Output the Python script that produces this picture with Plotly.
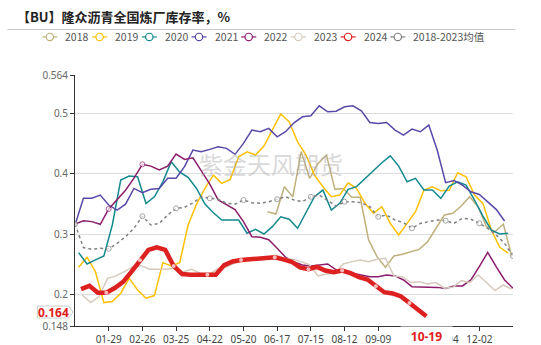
import numpy as np
import pandas as pd
import plotly.graph_objects as go

# ---------------- data ----------------
years = ["2018", "2019", "2020", "2021", "2022", "2023", "2024", "2018-2023均值"]
colors = ["#BFB07C", "#FFC000", "#14898E", "#5A48A8", "#8C1D6C", "#D6CABC", "#DD2020", "#808080"]
start_days = [160, 3, 3, 0, 0, 6, 5, 0]

v2018 = [0.3374, 0.3336, 0.3788, 0.362, 0.437, 0.3927, 0.4175, 0.4313, 0.3745, 0.376,
         0.3613, 0.3613, 0.2906, 0.263, 0.2454, 0.264, 0.2668, 0.2712, 0.275, 0.2877,
         0.31, 0.332, 0.3348, 0.3468, 0.3622, 0.3457, 0.3126, 0.3043, 0.317, 0.263]
v2019 = [0.2454, 0.262, 0.238, 0.1868, 0.1884, 0.2023, 0.227, 0.2078, 0.194, 0.1984,
         0.253, 0.2475, 0.253, 0.3154, 0.350, 0.376, 0.398, 0.3844, 0.391, 0.4285,
         0.4368, 0.4313, 0.4462, 0.4727, 0.4995, 0.4864, 0.4533, 0.4313, 0.398, 0.3788,
         0.3622, 0.365, 0.3854, 0.376, 0.3513, 0.3348, 0.3457, 0.3182, 0.2988, 0.318,
         0.3374, 0.3733, 0.3788, 0.372, 0.373, 0.402, 0.3954, 0.365, 0.3513, 0.307,
         0.2785, 0.2686]
v2020 = [0.2696, 0.2508, 0.2575, 0.264, 0.3154, 0.39, 0.3966, 0.3955, 0.351, 0.3622,
         0.387, 0.4202, 0.403, 0.3944, 0.376, 0.350, 0.3357, 0.3237, 0.3237, 0.3237,
         0.3017, 0.3083, 0.3005, 0.3126, 0.329, 0.325, 0.31, 0.3374, 0.3622, 0.3733,
         0.340, 0.3513, 0.3745, 0.379, 0.3927, 0.4065, 0.4186, 0.430, 0.413, 0.387,
         0.3927, 0.3733, 0.3733, 0.3596, 0.38, 0.387, 0.3816, 0.3568, 0.330, 0.307,
         0.3005, 0.3017]
v2021 = [0.3154, 0.3597, 0.3597, 0.365, 0.3485, 0.340, 0.350, 0.376, 0.369, 0.3745,
         0.376, 0.393, 0.393, 0.412, 0.4396, 0.437, 0.4407, 0.445, 0.4424, 0.4325,
         0.4506, 0.4727, 0.470, 0.4755, 0.4616, 0.470, 0.4848, 0.4947, 0.4964, 0.513,
         0.503, 0.5041, 0.5113, 0.513, 0.5046, 0.4854, 0.4838, 0.4854, 0.4727, 0.4644,
         0.4743, 0.470, 0.481, 0.4396, 0.3855, 0.389, 0.3816, 0.3705, 0.366, 0.354,
         0.3413, 0.322]
v2022 = [0.317, 0.3225, 0.321, 0.3166, 0.342, 0.358, 0.373, 0.393, 0.416, 0.413,
         0.4065, 0.413, 0.433, 0.424, 0.4268, 0.405, 0.383, 0.357, 0.3485, 0.341,
         0.321, 0.296, 0.295, 0.291, 0.2768, 0.262, 0.254, 0.249, 0.2475, 0.249,
         0.2508, 0.241, 0.238, 0.2354, 0.2326, 0.2298, 0.2298, 0.2326, 0.231, 0.2243,
         0.2132, 0.2132, 0.2125, 0.212, 0.21, 0.2144, 0.2144, 0.2243, 0.2464, 0.270,
         0.2464, 0.2243, 0.2106]
v2023 = [0.1995, 0.1868, 0.1967, 0.227, 0.231, 0.238, 0.2464, 0.248, 0.242, 0.242,
         0.242, 0.2437, 0.238, 0.242, 0.2354, 0.2326, 0.242, 0.2454, 0.252, 0.2575,
         0.258, 0.2575, 0.2603, 0.2657, 0.2603, 0.2586, 0.2547, 0.2492, 0.231, 0.2343,
         0.2354, 0.2508, 0.2547, 0.2575, 0.2547, 0.2586, 0.2603, 0.231, 0.2298, 0.22,
         0.2215, 0.2177, 0.22, 0.2106, 0.2122, 0.2232, 0.22, 0.2326, 0.22, 0.2066,
         0.216, 0.209]
v2024 = [0.209, 0.2145, 0.203, 0.203, 0.211, 0.221, 0.238, 0.257, 0.274, 0.2785,
         0.274, 0.2475, 0.234, 0.233, 0.233, 0.233, 0.233, 0.249, 0.255, 0.2575,
         0.259, 0.26, 0.261, 0.262, 0.2585, 0.2545, 0.245, 0.242, 0.246, 0.240,
         0.237, 0.240, 0.2355, 0.229, 0.225, 0.214, 0.204, 0.202, 0.197, 0.186,
         0.175, 0.164]
vmean = [0.317, 0.278, 0.2751, 0.2768, 0.276, 0.285, 0.296, 0.310, 0.330, 0.3154,
         0.318, 0.332, 0.343, 0.3447, 0.352, 0.3622, 0.3596, 0.358, 0.3513, 0.350,
         0.3568, 0.3523, 0.3513, 0.354, 0.358, 0.3622, 0.3568, 0.354, 0.3622, 0.365,
         0.356, 0.3468, 0.354, 0.354, 0.3523, 0.3457, 0.329, 0.332, 0.3237, 0.3193,
         0.31, 0.318, 0.3209, 0.3237, 0.3225, 0.3182, 0.3265, 0.325, 0.3182, 0.31,
         0.2988, 0.285, 0.264]
series = [v2018, v2019, v2020, v2021, v2022, v2023, v2024, vmean]

y_ticks = [0.148, 0.2, 0.3, 0.4, 0.5, 0.564]
y_ticktext = ["0.148", "0.2", "0.3", "0.4", "0.5", "0.564"]
x_ticks = ["2024-01-29", "2024-02-26", "2024-03-25", "2024-04-22", "2024-05-20", "2024-06-17",
           "2024-07-15", "2024-08-12", "2024-09-09", "2024-10-07", "2024-11-04", "2024-12-02"]
# 10-07 label is hidden under the axis-pointer label in the reference
x_ticktext = ["01-29", "02-26", "03-25", "04-22", "05-20", "06-17",
              "07-15", "08-12", "09-09", "", "11-04", "12-02"]
last_date = "2024-10-19"
last_value = "0.164"
title = "【BU】隆众沥青全国炼厂库存率，%"
watermark = "紫金天风期货"

# ---------------- geometry ----------------
W, H = 541, 345
L, R, T, B = 74.6, 28.4, 74.8, 19.0
PW, PH = W - L - R, H - T - B


def px(xp):
    return (xp - L) / PW


def py(yp):
    return (H - B - yp) / PH


base = pd.Timestamp("2024-01-01")
fig = go.Figure()

for i, (name, vals) in enumerate(zip(years, series)):
    n = len(vals)
    xs = base + pd.to_timedelta(start_days[i] + 7 * np.arange(n), unit="D")
    if i == 7:
        sizes = [5 if k % 4 == 0 else 0 for k in range(n)]
        fig.add_trace(go.Scatter(
            x=xs, y=vals, mode="lines+markers", name=name,
            line=dict(color=colors[i], width=1.5, dash="dot"),
            marker=dict(size=sizes, color="white", line=dict(color=colors[i], width=1)),
            showlegend=False, hoverinfo="skip"))
    elif i == 6:
        sizes = [4 if k % 4 == 3 else 0 for k in range(n)]
        fig.add_trace(go.Scatter(
            x=xs, y=vals, mode="lines+markers", name=name,
            line=dict(color=colors[i], width=4.5),
            marker=dict(size=sizes, color="white", line=dict(width=0)),
            showlegend=False, hoverinfo="skip"))
    elif i == 4:
        sizes = [5 if k % 4 == 0 and 0 < k < 12 else 0 for k in range(n)]
        fig.add_trace(go.Scatter(
            x=xs, y=vals, mode="lines+markers", name=name,
            line=dict(color=colors[i], width=1.5),
            marker=dict(size=sizes, color="white", line=dict(color=colors[i], width=1)),
            showlegend=False, hoverinfo="skip"))
    else:
        fig.add_trace(go.Scatter(
            x=xs, y=vals, mode="lines", name=name,
            line=dict(color=colors[i], width=1.5),
            showlegend=False, hoverinfo="skip"))

shapes = []
annotations = []

# header separator line
shapes.append(dict(type="line", xref="paper", yref="paper",
                   x0=px(7), x1=px(515), y0=py(29.3), y1=py(29.3),
                   line=dict(color="#C8C8C8", width=1)))

# custom legend
leg_x0 = 42.0
leg_step = 49.7
leg_y = 36.7
for i, name in enumerate(years):
    x0 = leg_x0 + i * leg_step
    shapes.append(dict(type="line", xref="paper", yref="paper",
                       x0=px(x0), x1=px(x0 + 15), y0=py(leg_y), y1=py(leg_y),
                       line=dict(color=colors[i], width=1.2)))
    shapes.append(dict(type="circle", xref="paper", yref="paper",
                       x0=px(x0 + 3.8), x1=px(x0 + 11.2), y0=py(leg_y + 3.7), y1=py(leg_y - 3.7),
                       fillcolor="white", line=dict(color=colors[i], width=1.2)))
    annotations.append(dict(text=name, xref="paper", yref="paper",
                            x=px(x0 + 21), y=py(leg_y), xanchor="left", yanchor="middle",
                            showarrow=False,
                            font=dict(size=10.5, color="#555555", family="Noto Sans CJK SC")))

# watermark
annotations.append(dict(text=watermark, xref="paper", yref="paper",
                        x=px(271), y=py(163), xanchor="center", yanchor="middle",
                        showarrow=False,
                        font=dict(size=24, color="rgba(170,170,170,0.45)", family="Noto Sans CJK SC")))

# y axis-pointer label box with arrow tip
bl, br, tip, bt, bb = 37.0, 68.5, 72.5, 306.0, 318.0
bm = (bt + bb) / 2
path = "M {} {} L {} {} L {} {} L {} {} L {} {} Z".format(
    px(bl), py(bt), px(br), py(bt), px(tip), py(bm), px(br), py(bb), px(bl), py(bb))
shapes.append(dict(type="path", xref="paper", yref="paper", path=path,
                   fillcolor="white", line=dict(color="#CCCCCC", width=1)))
annotations.append(dict(text="<b>" + last_value + "</b>", xref="paper", yref="paper",
                        x=px(53.5), y=py(bm), xanchor="center", yanchor="middle",
                        showarrow=False, height=11, borderpad=0,
                        font=dict(size=12, color="#E02020", family="Noto Sans")))

# x axis-pointer label
annotations.append(dict(text="<b>" + last_date[5:] + "</b>", xref="x", yref="paper",
                        x=last_date, y=py(336.5), xanchor="center", yanchor="middle",
                        showarrow=False, bgcolor="white", borderpad=1, width=49,
                        font=dict(size=12, color="#E02020", family="Noto Sans")))

fig.update_layout(
    width=W, height=H,
    margin=dict(l=L, r=R, t=T, b=B, autoexpand=False),
    paper_bgcolor="white", plot_bgcolor="white",
    title=dict(text="<b>" + title + "</b>", x=17 / W, xanchor="left",
               y=1 - 17 / H, yanchor="middle",
               font=dict(size=13, color="#222222", family="Noto Sans CJK SC")),
    shapes=shapes, annotations=annotations,
    showlegend=False,
)

fig.update_xaxes(
    type="date", range=["2024-01-01", "2024-12-30"],
    tickvals=x_ticks, ticktext=x_ticktext,
    showgrid=False, zeroline=False,
    showline=True, linecolor="#333333", linewidth=1,
    ticks="outside", ticklen=4, tickcolor="#333333",
    tickfont=dict(size=10, color="#444444", family="Noto Sans"),
)
fig.update_yaxes(
    range=[0.148, 0.564], tickvals=y_ticks, ticktext=y_ticktext,
    showgrid=True, gridcolor="#DDDDDD", gridwidth=1, zeroline=False,
    showline=True, linecolor="#333333", linewidth=1,
    ticks="outside", ticklen=4, tickcolor="#333333",
    tickfont=dict(size=10, color="#666666", family="Noto Sans"),
)

fig.write_html("out.html")
